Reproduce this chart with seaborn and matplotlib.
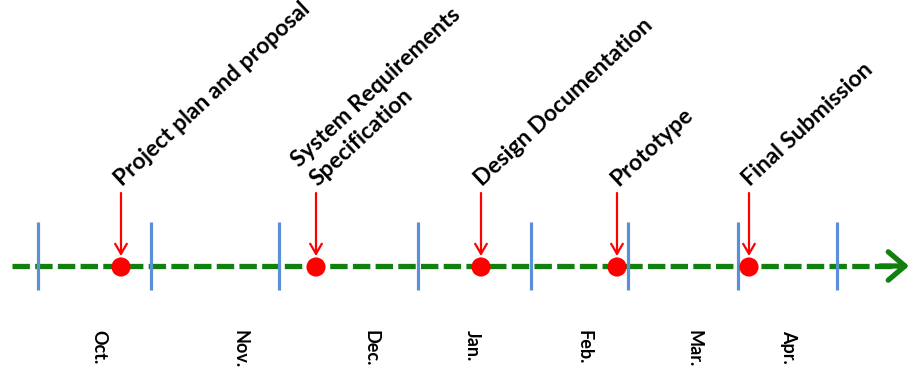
import matplotlib
matplotlib.use("Agg")
import matplotlib.pyplot as plt
import seaborn as sns
import pandas as pd

# Timeline data (x in timeline units along the axis)
month_names = ["Oct.", "Nov.", "Dec.", "Jan.", "Feb.", "Mar.", "Apr."]
month_label_x = [99, 240, 371, 472, 584, 694, 789]
month_boundary_x = [38, 151, 279, 418, 531, 628, 738, 837]

milestone_names = [
    "Project plan and proposal",
    "System Requirements\nSpecification",
    "Design Documentation",
    "Prototype",
    "Final Submission",
]
milestone_x = [121, 316, 481, 617, 749]

sns.set_theme(style="white")
plt.rcParams["font.family"] = ["Lato", "DejaVu Sans"]

fig = plt.figure(figsize=(9.12, 3.67), dpi=100)
ax = fig.add_axes([0, 0, 1, 1])
ax.set_xlim(0, 912)
ax.set_ylim(367, 0)
ax.axis("off")

axis_y = 266
green = "#12800f"
blue = "#5b8fd6"
red = "#ff0000"

# Month boundary ticks
ax.vlines(month_boundary_x, 222, 290, color=blue, lw=2.3, zorder=2)

# Dashed green timeline with an open arrowhead
ax.plot([12, 900], [axis_y, axis_y], color=green, lw=3.8,
        dashes=(3.3, 1.0), solid_capstyle="butt", dash_capstyle="butt", zorder=1)
ax.annotate("", xy=(909, axis_y), xytext=(880, axis_y),
            arrowprops=dict(arrowstyle="->,head_length=1.0,head_width=0.85",
                            color=green, lw=3.8, shrinkA=0, shrinkB=0,
                            capstyle="round", joinstyle="round"), zorder=1)

# Milestone markers
df = pd.DataFrame({"x": milestone_x, "y": [axis_y + 1] * len(milestone_x)})
sns.scatterplot(data=df, x="x", y="y", ax=ax, color=red, s=190,
                edgecolor="none", zorder=4, legend=False)

# Pointer arrows and rotated milestone labels
for name, x in zip(milestone_names, milestone_x):
    ax.annotate("", xy=(x, 256), xytext=(x, 193),
                arrowprops=dict(arrowstyle="->,head_length=0.6,head_width=0.35",
                                color=red, lw=1.6, shrinkA=0, shrinkB=0), zorder=3)
    ax.text(x + 4, 190, name, rotation=43, rotation_mode="anchor",
            ha="left", va="bottom", multialignment="left",
            fontsize=16.5, fontweight="bold", color="black", linespacing=1.3)

# Month labels
for name, x in zip(month_names, month_label_x):
    ax.text(x, 330, name, rotation=-90, ha="center", va="top",
            fontsize=13, fontweight="bold", color="black")

ax.set_xlabel("")
ax.set_ylabel("")
fig.savefig("out.png", dpi=100)
